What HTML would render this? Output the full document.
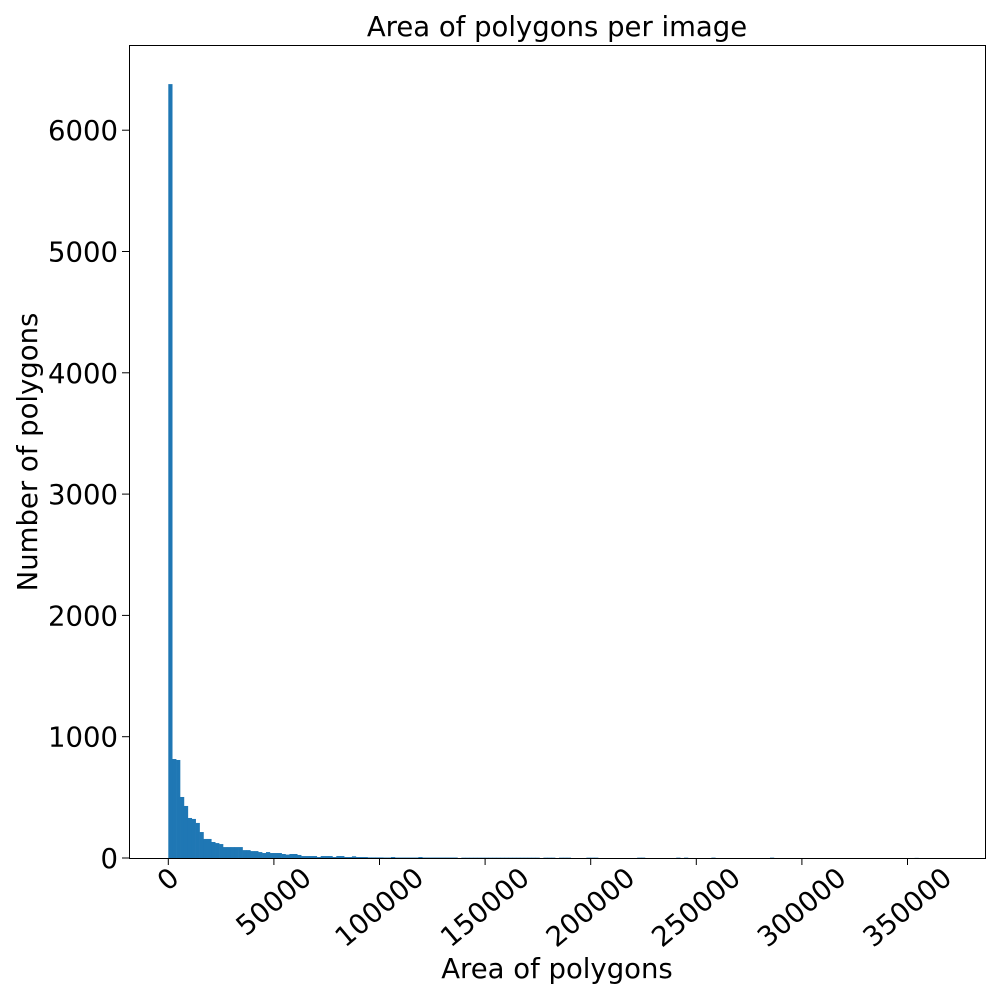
<!DOCTYPE html>
<html><head><meta charset="utf-8"><style>body{margin:0;background:#fff}svg{display:block}text{font-family:"DejaVu Sans","Liberation Sans",sans-serif;fill:#000}</style></head>
<body>
<svg id="chart" width="1000" height="1000" viewBox="0 0 1000 1000">
<rect x="0" y="0" width="1000" height="1000" fill="#fff"/>
<text x="557" y="36" font-size="27.5" text-anchor="middle">Area of polygons per image</text>
<g id="bars"></g>
<rect x="129.5" y="45.5" width="856" height="813" fill="none" stroke="#000" stroke-width="1"/>
<g id="xaxis"></g>
<g id="yaxis"></g>
<text x="557" y="978" font-size="27.5" text-anchor="middle">Area of polygons</text>
<text x="0" y="0" font-size="27.5" text-anchor="middle" transform="translate(37,452) rotate(-90)">Number of polygons</text>
</svg>
<script>
const binWidth = 1850;
const counts = [6380,816,808,503,429,330,322,289,214,157,157,132,123,115,90,90,90,90,90,65,65,57,57,49,41,49,41,41,41,33,28,33,33,25,16,16,16,16,8,16,16,16,8,16,16,8,8,14,8,8,8,5,5,5,5,
4,4,8,4,4,4,4,4,4,8,4,4,4,4,4,4,4,4,4,0,
3,3,3,3,3,3,3,3,3,3,3,3,3,3,3,3,3,3,3,3,0,3,3,3,0,3,3,3,0,0,0,0,3,3,3,0,0,0,0,0,0,0,0,0,0,3,3,0,0,0,0,0,0,0,0,3,0,3,0,0,0,0,0,0,3,0,0,0,0,0,0,0,0,0,0,0,0,0,0,3,0,0,0,0,0,0,0,0,0,0,0,0,0,0,0,0,0,0,0,0,0,0,0,0,0,0,0,0,0,0,0,0,0,0,0,0,1];
const xTicks = [0,50000,100000,150000,200000,250000,300000,350000];
const yTicks = [0,1000,2000,3000,4000,5000,6000];
const NS = "http://www.w3.org/2000/svg";
const xs = v => 168.3 + v * (105.6 / 50000);
const ys = v => 858 - v * (121.3 / 1000);
const FS = 27.5;
const bars = document.getElementById('bars');
counts.forEach((c, i) => {
  if (c <= 0) return;
  const r = document.createElementNS(NS, 'rect');
  
  
  const x0 = xs(i * binWidth), x1 = xs((i + 1) * binWidth);
  r.setAttribute('x', x0); r.setAttribute('width', x1 - x0 + 0.3);
  r.setAttribute('y', ys(c)); r.setAttribute('height', 858 - ys(c));
  r.setAttribute('fill', '#1f77b4');
  bars.appendChild(r);
});
const xa = document.getElementById('xaxis');
const ang = 40 * Math.PI / 180;
xTicks.forEach(t => {
  const x = xs(t);
  const l = document.createElementNS(NS, 'line');
  
  
  l.setAttribute('x1', x); l.setAttribute('x2', x); l.setAttribute('y1', 858); l.setAttribute('y2', 865);
  l.setAttribute('stroke', '#000');
  xa.appendChild(l);
  const s = String(t);
  const w = s.length * 0.636 * FS, h = FS * 0.75;
  const cy = 866 + (w * Math.sin(ang) + h * Math.cos(ang)) / 2;
  const tx = document.createElementNS(NS, 'text');
  
  
  tx.setAttribute('font-size', FS);
  tx.setAttribute('text-anchor', 'middle');
  tx.setAttribute('dominant-baseline', 'central');
  tx.setAttribute('transform', 'translate(' + x + ',' + cy + ') rotate(-40)');
  tx.textContent = s;
  xa.appendChild(tx);
});
const ya = document.getElementById('yaxis');
yTicks.forEach(t => {
  const y = ys(t);
  const l = document.createElementNS(NS, 'line');
  
  
  l.setAttribute('x1', 122); l.setAttribute('x2', 129); l.setAttribute('y1', y); l.setAttribute('y2', y);
  l.setAttribute('stroke', '#000');
  ya.appendChild(l);
  const tx = document.createElementNS(NS, 'text');
  
  
  tx.setAttribute('font-size', FS);
  tx.setAttribute('text-anchor', 'end');
  tx.setAttribute('x', 118); tx.setAttribute('y', y + 10);
  tx.textContent = t;
  ya.appendChild(tx);
});
</script>
</body></html>
